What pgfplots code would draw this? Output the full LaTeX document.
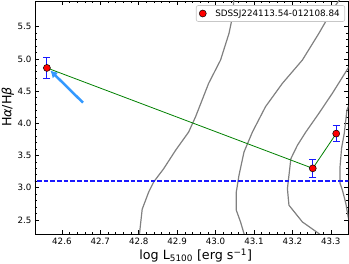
\documentclass[border=0pt]{standalone}
\usepackage{fontspec}
\setmainfont{DejaVu Sans}
\usepackage{pgfplots}
\pgfplotsset{compat=1.18}
\usetikzlibrary{arrows.meta}
\definecolor{arrowblue}{RGB}{51,153,255}
\definecolor{mplgreen}{RGB}{0,128,0}
\definecolor{mplblue}{RGB}{25,25,255}
\definecolor{mplgray}{RGB}{128,128,128}
\definecolor{mplred}{RGB}{255,0,0}
\begin{document}
\begin{tikzpicture}
\begin{axis}[
  scale only axis, width=313.5pt, height=233pt,
  xmin=42.53, xmax=43.346, ymin=2.28, ymax=5.9,
  xtick={42.6,42.7,42.8,42.9,43.0,43.1,43.2,43.3},
  ytick={2.5,3.0,3.5,4.0,4.5,5.0,5.5},
  minor x tick num=4, minor y tick num=4,
  xtick pos=both, ytick pos=both,
  tick align=inside,
  major tick length=4pt, minor tick length=2pt,
  tick style={black, line width=0.6pt},
  axis line style={black, line width=0.8pt},
  /pgf/number format/assume math mode=true,
  /pgf/number format/fixed, /pgf/number format/fixed zerofill, /pgf/number format/precision=1,
  ticklabel style={font=\fontsize{8.7}{9}\selectfont, inner sep=0pt},
  xticklabel style={yshift=-3.7pt},
  yticklabel style={xshift=-3.3pt},
  xlabel={log L\textsubscript{5100} [erg s\textsuperscript{−1}]},
  ylabel={H{\itshape α}/H{\itshape β}},
  label style={font=\fontsize{12.7}{14}\selectfont, inner sep=0pt},
  xlabel style={at={(rel axis cs:0.5,0)}, anchor=base, xshift=4pt, yshift=-25.5pt},
  ylabel style={at={([xshift=-33.5pt]rel axis cs:0,0.545)}, anchor=north},
  legend style={at={(0.989,0.982)}, anchor=north east, font=\fontsize{8.8}{9}\selectfont, draw=black!22, line width=0.6pt, fill=white, rounded corners=2pt},
  legend cell align=left,
  clip=true,
]
% gray contours
\addplot[mplgray, line width=1.2pt, forget plot] coordinates {
(42.802,2.2) (42.802,2.286) (42.809,2.665) (42.826,2.933) (42.839,3.089) (42.865,3.295) (42.896,3.581) (42.930,3.865) (42.948,4.102) (42.982,4.621) (43.013,4.983) (43.035,5.398) (43.044,5.655) (43.048,5.95)};
\addplot[mplgray, line width=1.2pt, forget plot] coordinates {
(43.330,6.0) (43.322,5.915) (43.304,5.760) (43.269,5.398) (43.226,4.983) (43.174,4.621) (43.130,4.258) (43.096,3.865) (43.074,3.554) (43.061,3.193) (43.054,2.933) (43.054,2.649) (43.065,2.467) (43.074,2.286) (43.076,2.2)};
\addplot[mplgray, line width=1.2pt, forget plot] coordinates {
(43.36,5.0) (43.304,4.466) (43.269,4.155) (43.235,3.865) (43.213,3.658) (43.196,3.450) (43.187,2.984) (43.191,2.727) (43.226,2.467) (43.269,2.286) (43.28,2.2)};
\addplot[mplgray, line width=1.2pt, forget plot] coordinates {
(43.352,4.35) (43.342,4.207) (43.335,3.845) (43.328,3.612) (43.324,3.326) (43.324,3.068) (43.330,2.964) (43.339,2.758) (43.345,2.55) (43.35,2.42)};
% dashed line
\addplot[draw=mplblue, line width=1.45pt, dash pattern=on 4.7pt off 2pt, forget plot] coordinates {(42.5,3.1) (43.4,3.1)};
% arrow
\addplot[draw=arrowblue, line width=2.5pt, -{Latex[length=7pt,width=8pt]}, forget plot] coordinates {(42.655,4.32) (42.570,4.82)};
% connecting line
\addplot[draw=mplgreen, line width=0.8pt, forget plot] coordinates {(42.561,4.86) (43.253,3.30) (43.314,3.84)};
% points
\addplot[only marks, mark=*, mark size=3.5pt, mark options={fill=mplred, draw=black, line width=0.5pt},
  error bars/.cd, y dir=both, y explicit,
  error bar style={draw=mplblue, line width=1pt},
  error mark options={rotate=90, draw=mplblue, mark size=3.5pt, line width=1pt}]
  coordinates {(42.561,4.86) +- (0,0.16) (43.253,3.30) +- (0,0.14) (43.314,3.84) +- (0,0.13)};
\addlegendentry{\hspace{7pt}SDSSJ224113.54-012108.84}
\end{axis}
\pgfresetboundingbox
\path[use as bounding box] ([shift={(-35pt,-30pt)}]current axis.south west) rectangle ([shift={(0.5pt,1pt)}]current axis.north east);
\end{tikzpicture}
\end{document}
